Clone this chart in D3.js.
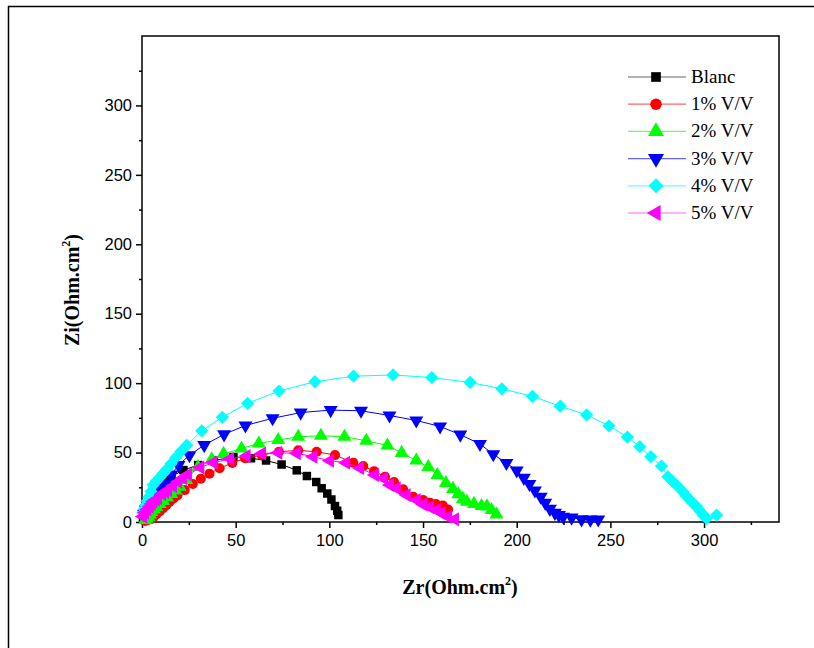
<!DOCTYPE html>
<html>
<head>
<meta charset="utf-8">
<script src="https://cdn.jsdelivr.net/npm/d3@7"></script>
<style>
  body { margin: 0; background: #fff; }
  svg { display: block; }
</style>
</head>
<body>
<div id="chart"></div>
<script>
// Nyquist data: [Zr, Zi] in Ohm.cm2
const seriesNames = ["Blanc", "1% V/V", "2% V/V", "3% V/V", "4% V/V", "5% V/V"];
const seriesColors = ["#000000", "#ff0000", "#00ff00", "#0000ff", "#00ffff", "#ff00ff"];

const blanc = [[0.5,2.9],[1,5],[1.6,7.2],[2.4,9.8],[3.2,12.2],[4.2,15],[5.3,18],[6.6,20.6],[8,23],
  [9.6,26],[11.2,28.8],[13.4,30.9],[15.8,32.8],[22.1,37.4],
  [30,41],[38.4,44.3],[48.8,46.8],[58.2,45.9],[66.2,44.3],[74.5,41.4],[82.6,37.2],[88,33.1],
  [93,28.8],[95.9,24.3],[98.9,20.5],[101.1,16.2],[103,11.5],[104.2,8.1],[104.8,5]];
const v1 = [[1.6,0.7],[3.2,1.4],[5,2.2],[6.3,3.8],[7.6,5.4],[9.4,7.6],[11.2,9.9],[13,12.2],[14.8,14.6],
  [16.8,16.9],[18.9,19.1],[22.8,23],[27.1,27.4],
  [31.4,31.2],[36,34.8],[41.4,38.7],[48.2,42.5],[55,45.9],[63.9,48.2],[73.1,50.6],[83.4,51.6],
  [93.2,50.6],[103,48.2],[112.8,42.7],[118.1,40.3],[123.9,36.6],[129.7,32.6],[134.5,28.8],
  [139.4,23.5],[144.8,18.2],[150.1,15.8],[153.7,13.9],[156.9,13],[160.6,11.9],[163.4,9]];
const v2 = [[1.6,1.4],[2.5,2.5],[3.4,3.6],[4.2,5.4],[5,7.2],[6.3,9],[7.6,10.8],[9.4,13],[11.2,15.1],
  [13.4,17.6],[15.6,20.2],[17.8,22.8],[20.1,25.4],[23.6,30.2],
  [29.9,39.6],[37.2,45.1],[43.5,49],[53.1,52.9],[62.3,56.5],[72.7,59],[83.4,61.4],[95.5,62.1],
  [108.1,61.4],[119.7,58.5],[131,55.1],[138.6,49.8],[146.4,44.3],[152.8,39.6],[157.7,33.8],
  [162.2,28.1],[166,23.8],[168.8,20],[171.3,16.6],[173.4,14.6],[177.2,13],[181.2,11.5],
  [184.1,11.2],[186.6,8.6],[189.2,5.4]];
const v3 = [[1.1,5.8],[2.1,9],[3.2,12.2],[4.5,15.8],[5.9,19.4],[7.2,22],[8.5,24.5],[10.6,26.2],
  [12.8,27.9],[15.7,34.2],[19.5,41],[25.3,48.1],
  [33.2,55.4],[43.8,63.1],[55.2,69.5],[69.7,74.7],[84.7,78.8],[100.7,80.6],[116.9,80.1],
  [132.1,76.7],[146.4,73.1],[159.1,68.8],[169.9,62.9],[180.4,56.2],[187.5,48.8],[194.5,42.5],
  [200,37.1],[203.8,31.8],[206.8,27.4],[209.7,22.7],[212.8,18.2],[215.2,13.8],[217.7,9.5],
  [220.4,6.6],[222.5,5],[224.8,3.8],[229.3,3.2],[234.6,1.9],[239.3,1.7],[243.5,1.8]];
const v4 = [[0.5,6.5],[1.2,9.2],[2.1,12.2],[2.9,15],[3.7,18],[4.8,22],[6,26.6],[7.7,29.5],[9.6,32.2],
  [11.3,35],[13.2,37.9],[15.5,42],[18,46.3],[20.8,50.8],[23.9,55.2],
  [31.9,65.7],[42.9,75.4],[56.4,85.5],[73.1,94.3],[92.3,101],[112.9,105],[134,105.9],
  [154.7,104],[175.1,100.5],[192.1,95.9],[208.4,90.5],[223.2,83.4],[237.3,77.1],[249.2,69.3],
  [259.1,61.2],[265.7,54.2],[271.6,47],[277.3,40.3],[280.7,32.6],[283,29.5],[285.3,26.6],
  [288.7,21.8],[290.5,18.8],[292.4,15.8],[294.2,13.4],[296,11],[297.8,8],[299.5,5],
  [301.3,2.7],[306.7,5]];
const v5 = [[0.5,4],[1.6,6.8],[2.8,9],[4.1,11],[5.1,13],[6.1,14.8],[7.3,16],[8.5,17.1],[10.7,20.2],
  [12.3,21.6],[13.9,23],[16.5,26],[19.2,29],[21.8,31.6],
  [24.5,34.2],[31.1,39.2],[38,42.8],[46.9,45.4],[55.8,47.5],[64,49.3],[72.7,49.9],[82.6,49.5],
  [91.4,47],[100.3,44.1],[108.9,42.7],[116.3,38.9],[124.3,33.8],[129.1,31.3],[132.3,26.6],
  [135.9,24.3],[141.2,19.4],[146.6,15.8],[150.1,12.6],[153.7,10.6],[157.3,8.6],[159.9,6.3],
  [163.4,3.8],[167,1.9]];
const seriesData = [blanc, v1, v2, v3, v4, v5];

const xTicks = [0, 50, 100, 150, 200, 250, 300];
const yTicks = [0, 50, 100, 150, 200, 250, 300];

const width = 814, height = 648;
const plotLeft = 142, plotRight = 779, plotTop = 36, plotBottom = 522;

const svg = d3.select("#chart").append("svg")
  .attr("width", width)
  .attr("height", height);

// outer frame of the figure
svg.append("rect")
  .attr("x", 8.5).attr("y", 6.5)
  .attr("width", 900).attr("height", 900)
  .attr("fill", "none").attr("stroke", "#000").attr("stroke-width", 1.5);

const x = d3.scaleLinear().domain([0, 340]).range([plotLeft, plotRight]);
const y = d3.scaleLinear().domain([0, 350]).range([plotBottom, plotTop]);

// axes: major ticks labelled, minor ticks in between
const xAxis = d3.axisBottom(x).tickValues(xTicks).tickSize(6).tickPadding(6).tickFormat(d3.format("d"));
const xMinor = d3.axisBottom(x).tickValues(d3.range(25, 340, 50)).tickSize(3).tickFormat("");
const yAxis = d3.axisLeft(y).tickValues(yTicks).tickSize(6).tickPadding(4).tickFormat(d3.format("d"));
const yMinor = d3.axisLeft(y).tickValues(d3.range(25, 350, 50)).tickSize(3).tickFormat("");

function styleAxis(g) {
  g.select(".domain").remove();
  g.selectAll("line").attr("stroke", "#000").attr("stroke-width", 1.5);
  g.selectAll("text")
    .attr("fill", "#000")
    .style("font-family", "'Liberation Sans', Arial, sans-serif")
    .style("font-size", "16.5px");
}

svg.append("g").attr("transform", `translate(0,${plotBottom})`).call(xAxis).call(styleAxis);
svg.append("g").attr("transform", `translate(0,${plotBottom})`).call(xMinor).call(styleAxis);
svg.append("g").attr("transform", `translate(${plotLeft},0)`).call(yAxis).call(styleAxis);
svg.append("g").attr("transform", `translate(${plotLeft},0)`).call(yMinor).call(styleAxis);

// plot box
svg.append("rect")
  .attr("x", plotLeft).attr("y", plotTop)
  .attr("width", plotRight - plotLeft).attr("height", plotBottom - plotTop)
  .attr("fill", "none").attr("stroke", "#000").attr("stroke-width", 1.5);

// marker shapes for each series
const markers = [
  { type: d3.symbolSquare, size: 72, rotate: 0 },
  { type: d3.symbolCircle, size: 80, rotate: 0 },
  { type: d3.symbolTriangle, size: 85, rotate: 0 },
  { type: d3.symbolTriangle, size: 85, rotate: 180 },
  { type: d3.symbolSquare, size: 88, rotate: 45 },
  { type: d3.symbolTriangle, size: 85, rotate: -90 }
];

const line = d3.line().x((d) => x(d[0])).y((d) => y(d[1]));

const plot = svg.append("g");
seriesData.forEach((data, i) => {
  plot.append("path")
    .datum(data)
    .attr("d", line)
    .attr("fill", "none")
    .attr("stroke", seriesColors[i])
    .attr("stroke-width", 1);

  plot.append("g")
    .selectAll("path")
    .data(data)
    .enter()
    .append("path")
    .attr("d", d3.symbol().type(markers[i].type).size(markers[i].size))
    .attr("transform", (d) => `translate(${x(d[0])},${y(d[1])}) rotate(${markers[i].rotate})`)
    .attr("fill", seriesColors[i]);
});

// legend
const legend = svg.append("g");
seriesNames.forEach((name, i) => {
  const ly = 77 + i * 27.2;
  legend.append("line")
    .attr("x1", 628).attr("x2", 686)
    .attr("y1", ly).attr("y2", ly)
    .attr("stroke", seriesColors[i]).attr("stroke-width", 1.2).attr("opacity", 0.6);
  legend.append("path")
    .attr("d", d3.symbol().type(markers[i].type).size(markers[i].size * 1.3))
    .attr("transform", `translate(656,${ly}) rotate(${markers[i].rotate})`)
    .attr("fill", seriesColors[i]);
  legend.append("text")
    .attr("x", 691).attr("y", ly + 6)
    .style("font-family", "'Liberation Serif', 'Times New Roman', serif")
    .style("font-size", "19px")
    .text(name);
});

// axis titles
const titleFont = "'Liberation Serif', 'Times New Roman', serif";
const xt = svg.append("text")
  .attr("x", 460).attr("y", 594)
  .attr("text-anchor", "middle")
  .style("font-family", titleFont)
  .style("font-size", "20px")
  .style("font-weight", "bold");
xt.append("tspan").text("Zr(Ohm.cm");
xt.append("tspan").attr("dy", -9).style("font-size", "12px").text("2");
xt.append("tspan").attr("dy", 9).text(")");

const yt = svg.append("text")
  .attr("transform", "translate(79,290) rotate(-90)")
  .attr("text-anchor", "middle")
  .style("font-family", titleFont)
  .style("font-size", "20px")
  .style("font-weight", "bold");
yt.append("tspan").text("Zi(Ohm.cm");
yt.append("tspan").attr("dy", -9).style("font-size", "12px").text("2");
yt.append("tspan").attr("dy", 9).text(")");
</script>
</body>
</html>
